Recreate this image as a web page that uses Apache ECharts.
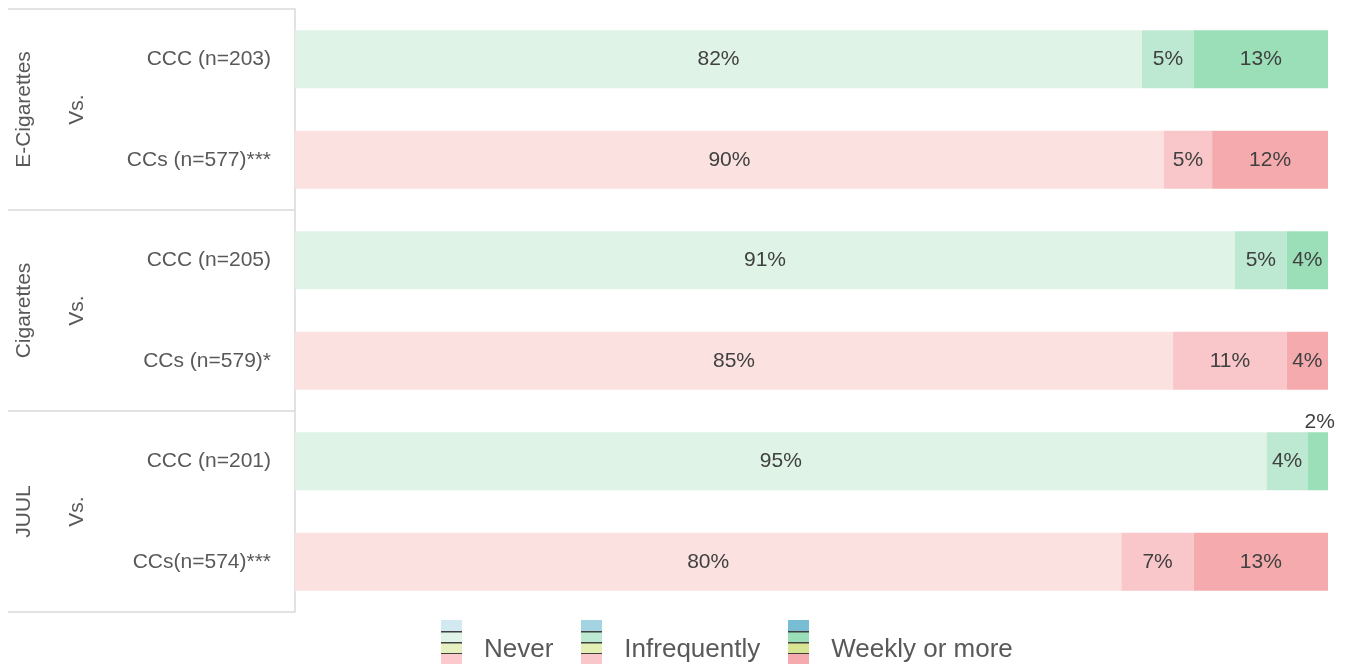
<!DOCTYPE html>
<html>
<head>
<meta charset="utf-8">
<script src="https://cdn.jsdelivr.net/npm/echarts@6/dist/echarts.min.js"></script>
<style>
html,body{margin:0;padding:0;background:#fff;}
#chart{width:1347px;height:667px;}
</style>
</head>
<body>
<div id="chart"></div>
<script>
// ---- data ----
var rowLabels = ['CCC (n=203)', 'CCs (n=577)***', 'CCC (n=205)', 'CCs (n=579)*', 'CCC (n=201)', 'CCs(n=574)***'];
var rowKind = ['ccc', 'ccs', 'ccc', 'ccs', 'ccc', 'ccs'];
var groups = ['E-Cigarettes', 'Cigarettes', 'JUUL'];
var seriesNames = ['Never', 'Infrequently', 'Weekly or more'];
var never = [82, 90, 91, 85, 95, 80];
var infrequently = [5, 5, 5, 11, 4, 7];
var weekly = [13, 12, 4, 4, 2, 13];

// ---- styling ----
var colors = {
  ccc: ['#dff3e7', '#bde8d2', '#9adfb7'],
  ccs: ['#fce1e1', '#f9c7ca', '#f5abad']
};
var legendStripes = [
  ['#d3e9f1', '#dff3e7', '#e6f0c0', '#fcc9cc'],
  ['#a4d3e2', '#bde8d2', '#e3efb5', '#f9c7ca'],
  ['#79bdd4', '#9adfb7', '#d8e693', '#f5abad']
];
var FONT = '"Liberation Sans", Arial, sans-serif';

function makeIcon(cols) {
  var c = document.createElement('canvas');
  c.width = 21; c.height = 44;
  var g = c.getContext('2d');
  var h = 11;
  for (var i = 0; i < 4; i++) {
    g.fillStyle = cols[i];
    g.fillRect(0, i * h, 21, h);
  }
  g.fillStyle = '#404040';
  g.fillRect(0, 11, 21, 1.5);
  g.fillRect(0, 22, 21, 1.5);
  g.fillRect(0, 33, 21, 1);
  return 'image://' + c.toDataURL();
}

var raw = [never, infrequently, weekly];
var totals = never.map(function (v, i) { return never[i] + infrequently[i] + weekly[i]; });

var series = raw.map(function (arr, s) {
  return {
    name: seriesNames[s],
    type: 'bar',
    stack: 'total',
    barWidth: 58,
    yAxisIndex: 0,
    data: arr.map(function (v, i) {
      var pct = v / totals[i] * 100;
      var item = {
        value: pct,
        raw: v,
        itemStyle: { color: colors[rowKind[i]][s] }
      };
      if (pct < 3) {
        item.label = { position: 'top', distance: 0, offset: [2, 0] };
      }
      return item;
    }),
    label: {
      show: true,
      position: 'inside',
      color: '#404040',
      fontSize: 21,
      fontFamily: FONT,
      formatter: function (p) { return p.data.raw + '%'; }
    },
    emphasis: { disabled: true }
  };
});

var chart = echarts.init(document.getElementById('chart'));
chart.setOption({
  animation: false,
  backgroundColor: '#fff',
  grid: { left: 295, right: 19, top: 9, bottom: 55, containLabel: false },
  legend: {
    data: seriesNames.map(function (n, i) { return { name: n, icon: makeIcon(legendStripes[i]) }; }),
    left: 441,
    top: 620,
    padding: 0,
    itemWidth: 21,
    itemHeight: 44,
    itemGap: 28,
    formatter: function (name) { return '{t|' + name + '}'; },
    textStyle: {
      fontSize: 26, color: '#595959', fontFamily: FONT,
      rich: { t: { fontSize: 26, color: '#595959', fontFamily: FONT, padding: [16, 0, 0, 17] } }
    }
  },
  xAxis: { type: 'value', min: 0, max: 100, show: false },
  yAxis: [
    {
      type: 'category',
      inverse: true,
      data: rowLabels,
      axisLine: { show: false },
      axisTick: { show: false },
      axisLabel: { margin: 24, fontSize: 21, color: '#595959', fontFamily: FONT }
    },
    {
      type: 'category',
      inverse: true,
      data: groups,
      position: 'left',
      offset: 0,
      axisLine: { show: true, lineStyle: { color: '#d9d9d9', width: 1.5 } },
      axisTick: { show: true, length: 287, interval: 0, lineStyle: { color: '#d9d9d9', width: 1.5 } },
      axisLabel: { rotate: 90, margin: 260, fontSize: 21, color: '#595959', fontFamily: FONT, interval: 0 }
    },
    {
      type: 'category',
      inverse: true,
      data: groups,
      position: 'left',
      offset: 0,
      axisLine: { show: false },
      axisTick: { show: false },
      axisLabel: {
        rotate: 90, margin: 207, fontSize: 21, color: '#595959', fontFamily: FONT, interval: 0,
        formatter: function () { return 'Vs.'; }
      }
    }
  ],
  series: series
});
</script>
</body>
</html>
